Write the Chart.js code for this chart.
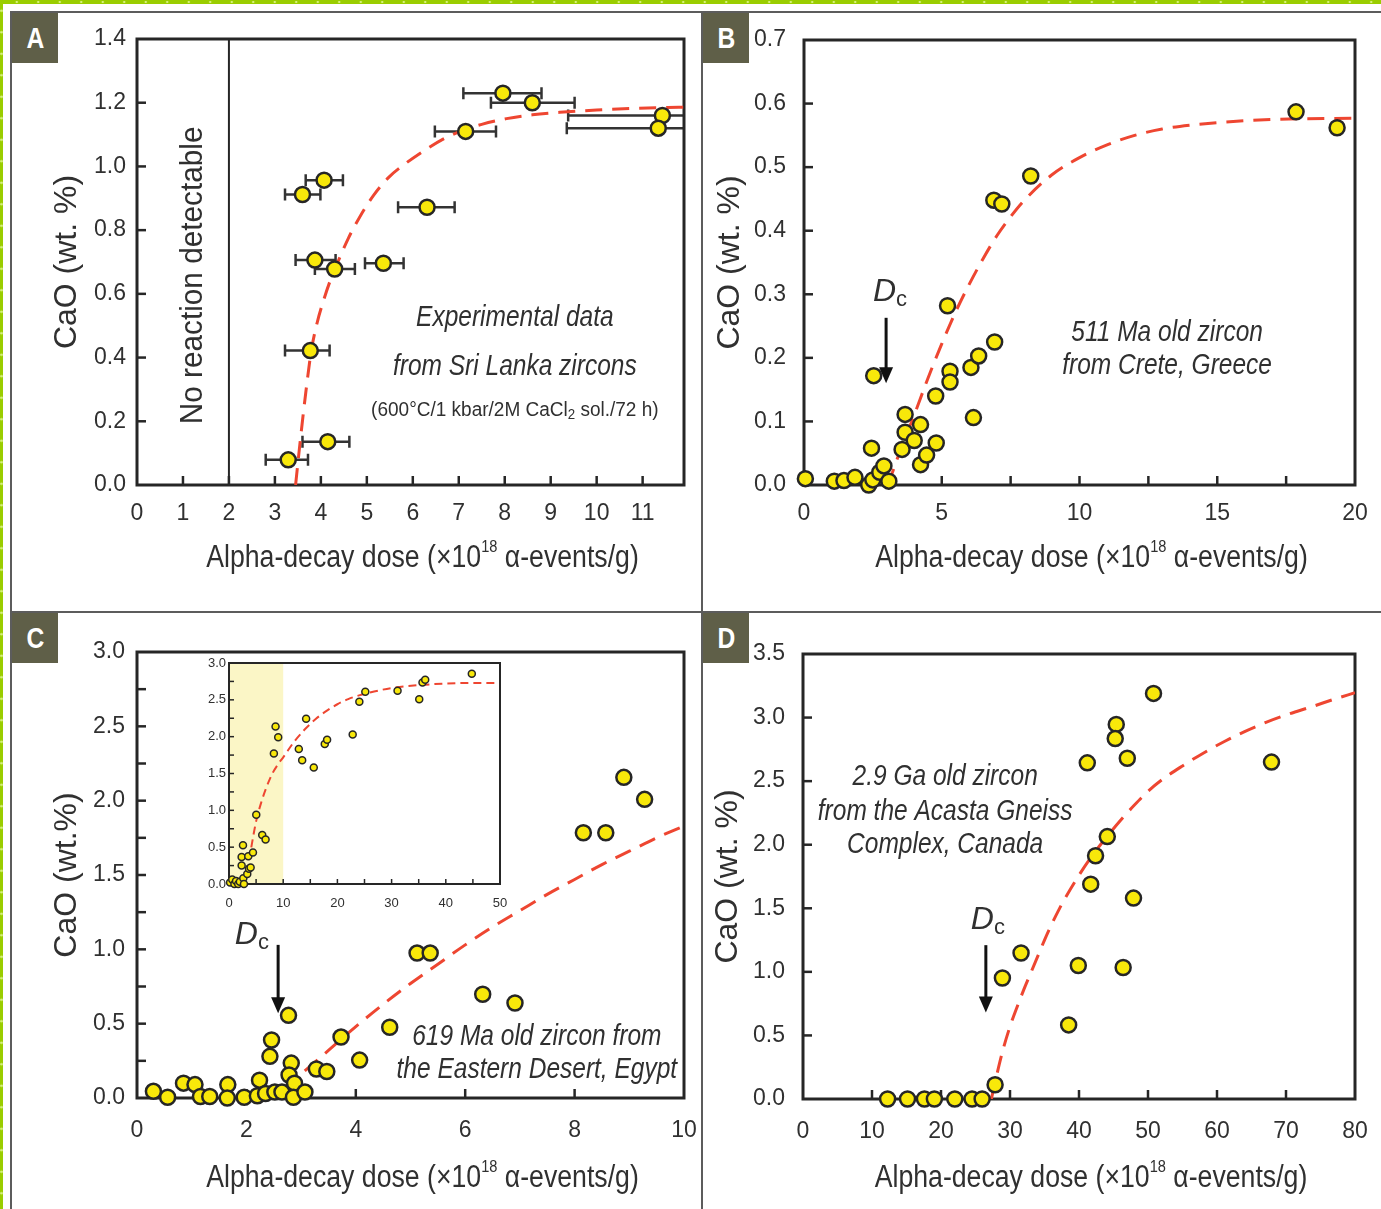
<!DOCTYPE html>
<html lang="en">
<head>
<meta charset="utf-8">
<title>CaO uptake versus alpha-decay dose in zircon</title>
<script src="https://cdn.jsdelivr.net/npm/chart.js@4.4.1/dist/chart.umd.min.js"></script>
<style>
  html, body { margin: 0; padding: 0; background: #fff; }
  #fig { position: relative; width: 1381px; height: 1209px; overflow: hidden; background: #fff; }
  .band-top { position: absolute; left: 0; top: 0; width: 1381px; height: 4px; background-color: #9acd00;
    background-image: radial-gradient(circle, #d6f07c 0 1px, transparent 1.6px); background-size: 21.5px 4px; background-position: 6px 0; }
  .band-left { position: absolute; left: 0; top: 0; width: 3px; height: 1209px; background-color: #9acd00;
    background-image: radial-gradient(circle, #d6f07c 0 1px, transparent 1.6px); background-size: 3px 21.5px; }
  .rule { position: absolute; background: #5c5c5c; }
  canvas { position: absolute; }
  .tag { position: absolute; width: 46px; height: 50px; background: #5f5f48; color: #fff;
    font: bold 29px 'Liberation Sans', sans-serif;
    display: flex; align-items: center; justify-content: center; }
  .tag span { display: inline-block; transform: scaleX(0.85); }
</style>
</head>
<body>
<div id="fig">
  <div class="band-top"></div>
  <div class="band-left"></div>
  <div class="rule" style="left:11px;top:11px;width:1370px;height:2px"></div>
  <div class="rule" style="left:10px;top:11px;width:2px;height:1198px"></div>
  <div class="rule" style="left:701px;top:11px;width:2px;height:1198px"></div>
  <div class="rule" style="left:11px;top:611px;width:1370px;height:2px"></div>

  <canvas id="cA" width="700" height="610" style="left:0;top:0;width:700px;height:610px"></canvas>
  <canvas id="cB" width="678" height="610" style="left:703px;top:0;width:678px;height:610px"></canvas>
  <canvas id="cC" width="700" height="596" style="left:0;top:613px;width:700px;height:596px"></canvas>
  <canvas id="cD" width="678" height="596" style="left:703px;top:613px;width:678px;height:596px"></canvas>
  <canvas id="cI" width="330" height="280" style="left:180px;top:645px;width:330px;height:280px"></canvas>

  <div class="tag" style="left:12px;top:13px"><span>A</span></div>
  <div class="tag" style="left:703px;top:13px"><span>B</span></div>
  <div class="tag" style="left:12px;top:613px"><span>C</span></div>
  <div class="tag" style="left:703px;top:613px"><span>D</span></div>
</div>

<script>
const FONT = "'Liberation Sans',Arial,sans-serif";
const INK = '#262626';
const TEXT = '#303030';
const FIT_RED = '#ee4631';
const DOT_FILL = '#f8e80a';

// ---------- A: experimental data, Sri Lanka zircons ----------
const A_DOSE    = [7.96, 8.6, 11.43, 11.34, 7.15, 4.07, 3.6, 6.31, 3.87, 4.3, 5.36, 3.77, 4.15, 3.29];
const A_DOSE_LO = [7.1, 7.7, 9.38, 9.35, 6.48, 3.67, 3.22, 5.68, 3.45, 3.87, 4.96, 3.22, 3.6, 2.8];
const A_DOSE_HI = [8.8, 9.52, 12.3, 12.3, 7.81, 4.48, 3.99, 6.91, 4.32, 4.74, 5.8, 4.19, 4.62, 3.72];
const A_CAO     = [1.23, 1.20, 1.16, 1.12, 1.11, 0.957, 0.912, 0.872, 0.706, 0.678, 0.696, 0.422, 0.136, 0.079];
const A_FIT_DOSE = [3.45, 3.56, 3.67, 3.79, 3.92, 4.06, 4.2, 4.37, 4.6, 4.84, 5.15, 5.47, 5.85, 6.25, 6.65, 7.03, 7.5, 8.04, 8.6, 9.2, 10.0, 10.8, 11.55, 11.9];
const A_FIT_CAO  = [0, 0.15, 0.288, 0.42, 0.51, 0.58, 0.64, 0.70, 0.775, 0.84, 0.91, 0.965, 1.01, 1.05, 1.085, 1.11, 1.132, 1.15, 1.162, 1.17, 1.177, 1.182, 1.185, 1.186];
const A_X_TICKS = [0, 1, 2, 3, 4, 5, 6, 7, 8, 9, 10, 11];
const A_Y_TICKS = [0, 0.2, 0.4, 0.6, 0.8, 1.0, 1.2, 1.4];

// ---------- B: 511 Ma zircon, Crete ----------
const B_DOSE = [0.05, 1.1, 1.45, 1.85, 2.35, 2.5, 2.45, 2.53, 2.75, 2.9, 3.08, 3.56, 3.67, 3.67, 4.0, 4.23, 4.23, 4.45, 4.8, 4.78, 5.21, 5.3, 5.3, 6.06, 6.34, 6.15, 6.92, 6.89, 7.18, 8.23, 17.86, 19.35];
const B_CAO  = [0.01, 0.006, 0.007, 0.012, 0.0, 0.008, 0.058, 0.172, 0.02, 0.03, 0.006, 0.056, 0.111, 0.083, 0.07, 0.095, 0.032, 0.047, 0.066, 0.14, 0.282, 0.179, 0.162, 0.185, 0.203, 0.106, 0.225, 0.448, 0.442, 0.486, 0.587, 0.562];
const B_FIT_DOSE = [3.05, 3.5, 4.0, 4.5, 5.0, 5.5, 6.0, 6.5, 7.0, 7.5, 8.0, 9.0, 10, 11, 12, 13, 14, 15, 16, 17, 18, 20];
const B_FIT_CAO  = [0, 0.055, 0.11, 0.168, 0.222, 0.272, 0.316, 0.356, 0.392, 0.422, 0.448, 0.488, 0.515, 0.535, 0.55, 0.56, 0.566, 0.57, 0.573, 0.575, 0.576, 0.577];
const B_X_TICKS  = [0, 2.5, 5, 7.5, 10, 12.5, 15, 17.5, 20];
const B_X_LABELS = [0, 5, 10, 15, 20];
const B_Y_TICKS  = [0, 0.1, 0.2, 0.3, 0.4, 0.5, 0.6, 0.7];

// ---------- C: 619 Ma zircon, Eastern Desert ----------
const C_DOSE = [0.30, 0.56, 0.85, 1.06, 1.16, 1.33, 1.66, 1.65, 1.96, 2.24, 2.20, 2.35, 2.52, 2.65, 2.43, 2.46, 2.77, 2.82, 2.78, 2.88, 2.86, 3.07, 3.28, 3.47, 3.73, 4.07, 4.62, 5.12, 5.36, 6.32, 6.91, 8.16, 8.57, 8.90, 9.28];
const C_CAO  = [0.045, 0.005, 0.10, 0.09, 0.01, 0.01, 0.09, 0.0, 0.005, 0.12, 0.015, 0.03, 0.04, 0.04, 0.28, 0.39, 0.556, 0.235, 0.155, 0.10, 0.005, 0.04, 0.195, 0.178, 0.41, 0.255, 0.476, 0.975, 0.975, 0.698, 0.639, 1.784, 1.784, 2.157, 2.009];
const C_FIT_DOSE = [2.7, 3.0, 3.5, 4.0, 4.5, 5.0, 5.5, 6.0, 6.5, 7.0, 7.5, 8.0, 8.5, 9.0, 9.5, 10];
const C_FIT_CAO  = [0.06, 0.16, 0.32, 0.48, 0.63, 0.77, 0.9, 1.03, 1.15, 1.26, 1.37, 1.47, 1.57, 1.66, 1.75, 1.83];
const C_X_TICKS  = [0, 2, 4, 6, 8, 10];
const C_Y_TICKS  = [0, 0.25, 0.5, 0.75, 1.0, 1.25, 1.5, 1.75, 2.0, 2.25, 2.5, 2.75, 3.0];
const C_Y_LABELS = [0, 0.5, 1.0, 1.5, 2.0, 2.5, 3.0];

// C inset: same zircon over the full dose range
const CI_DOSE = [0.2, 0.6, 1.0, 1.3, 1.7, 2.0, 2.33, 2.33, 2.58, 2.64, 2.76, 3.37, 3.56, 3.68, 3.99, 4.42, 5.03, 6.13, 6.75, 8.28, 8.59, 9.08, 12.88, 13.5, 14.23, 15.64, 17.67, 18.1, 22.82, 24.05, 25.15, 31.1, 35.1, 35.7, 36.2, 44.8];
const CI_CAO  = [0.02, 0.06, 0.0, 0.04, 0.0, 0.03, 0.367, 0.252, 0.527, 0.078, 0.0, 0.137, 0.376, 0.206, 0.224, 0.426, 0.939, 0.664, 0.605, 1.773, 2.139, 1.993, 1.833, 1.681, 2.243, 1.58, 1.902, 1.957, 2.029, 2.474, 2.611, 2.624, 2.509, 2.734, 2.771, 2.854];
const CI_FIT_DOSE = [3.3, 4, 5, 6, 7, 8, 9, 10, 12, 14, 16, 18, 20, 22, 24, 26, 30, 35, 40, 45, 49.5];
const CI_FIT_CAO  = [0.15, 0.45, 0.85, 1.12, 1.33, 1.5, 1.62, 1.72, 1.93, 2.1, 2.24, 2.35, 2.44, 2.51, 2.56, 2.6, 2.66, 2.7, 2.72, 2.73, 2.73];
const CI_X_TICKS  = [0, 5, 10, 15, 20, 25, 30, 35, 40, 45, 50];
const CI_X_LABELS = [0, 10, 20, 30, 40, 50];
const CI_Y_TICKS  = [0, 0.25, 0.5, 0.75, 1.0, 1.25, 1.5, 1.75, 2.0, 2.25, 2.5, 2.75, 3.0];
const CI_Y_LABELS = [0, 0.5, 1.0, 1.5, 2.0, 2.5, 3.0];

// ---------- D: 2.9 Ga zircon, Acasta Gneiss ----------
const D_DOSE = [12.26, 15.15, 17.6, 19.04, 22.0, 24.5, 25.96, 27.84, 28.9, 31.6, 38.5, 39.9, 41.2, 41.7, 42.4, 44.1, 45.4, 45.25, 46.4, 47.0, 47.9, 50.8, 67.9];
const D_CAO  = [0, 0, 0, 0, 0, 0, 0, 0.112, 0.952, 1.148, 0.583, 1.05, 2.644, 1.69, 1.913, 2.064, 2.946, 2.835, 1.034, 2.68, 1.58, 3.19, 2.65];
const D_FIT_DOSE = [27.3, 28, 29, 30, 31, 32, 33, 34, 35, 36, 37, 38, 40, 42, 44, 46, 48, 50, 52, 55, 58, 61, 64, 67, 70, 74, 77, 80];
const D_FIT_CAO  = [0, 0.17, 0.39, 0.57, 0.72, 0.86, 0.99, 1.12, 1.25, 1.37, 1.48, 1.58, 1.76, 1.92, 2.06, 2.19, 2.31, 2.42, 2.51, 2.62, 2.72, 2.81, 2.89, 2.96, 3.02, 3.09, 3.145, 3.195];
const D_X_TICKS = [0, 10, 20, 30, 40, 50, 60, 70, 80];
const D_Y_TICKS = [0, 0.5, 1.0, 1.5, 2.0, 2.5, 3.0, 3.5];

// ---------- helpers ----------
const pts = (xs, ys) => xs.map((x, i) => ({ x, y: ys[i] }));
const font = (s) => `${s.italic ? 'italic ' : ''}${s.bold ? 'bold ' : ''}${s.size}px ${FONT}`;

function dots(xs, ys, r, bw) {
  return { data: pts(xs, ys), showLine: false, clip: false,
    pointRadius: r, pointHoverRadius: r, pointBackgroundColor: DOT_FILL,
    pointBorderColor: INK, pointBorderWidth: bw };
}
function fitLine(xs, ys, w, dash) {
  return { data: pts(xs, ys), showLine: true, pointRadius: 0, pointHoverRadius: 0,
    borderColor: FIT_RED, borderWidth: w, borderDash: dash, borderCapStyle: 'butt',
    cubicInterpolationMode: 'monotone', fill: false };
}

// draws a run of text pieces (sub/superscripts, mixed styles) centred on (x, y);
// sx squeezes the run horizontally to get the narrow lettering
function drawRich(ctx, segs, x, y, sx) {
  let total = 0;
  segs.forEach(s => { ctx.font = font(s); s._w = ctx.measureText(s.t).width; total += s._w; });
  ctx.save();
  ctx.translate(x, y);
  ctx.scale(sx || 1, 1);
  ctx.textAlign = 'left';
  ctx.textBaseline = 'middle';
  let cx = -total / 2;
  segs.forEach(s => { ctx.font = font(s); ctx.fillText(s.t, cx, s.dy || 0); cx += s._w; });
  ctx.restore();
}

const decor = {
  id: 'decor',
  beforeDatasetsDraw(chart, _args, o) {
    const { ctx, chartArea: ca } = chart;
    const X = chart.scales.x, Y = chart.scales.y;
    ctx.save();
    if (o.paper) { ctx.fillStyle = o.paper; ctx.fillRect(ca.left, ca.top, ca.width, ca.height); }
    if (o.band) {
      const x0 = X.getPixelForValue(o.band.from), x1 = X.getPixelForValue(o.band.to);
      ctx.fillStyle = o.band.color; ctx.fillRect(x0, ca.top, x1 - x0, ca.height);
    }
    ctx.strokeStyle = INK;
    if (o.vline) {
      const px = X.getPixelForValue(o.vline.at);
      ctx.lineWidth = o.vline.width;
      ctx.beginPath(); ctx.moveTo(px, ca.top); ctx.lineTo(px, ca.bottom); ctx.stroke();
    }
    // tick marks point into the plot
    ctx.lineWidth = o.tickWidth;
    X.ticks.forEach(t => {
      const px = X.getPixelForValue(t.value);
      if (px <= ca.left + 1 || px >= ca.right - 1) return;
      ctx.beginPath(); ctx.moveTo(px, ca.bottom); ctx.lineTo(px, ca.bottom - o.tickLen); ctx.stroke();
    });
    Y.ticks.forEach(t => {
      const py = Y.getPixelForValue(t.value);
      if (py <= ca.top + 1 || py >= ca.bottom - 1) return;
      ctx.beginPath(); ctx.moveTo(ca.left, py); ctx.lineTo(ca.left + o.tickLen, py); ctx.stroke();
    });
    // horizontal error bars on dose
    if (o.errors) {
      ctx.save();
      ctx.beginPath(); ctx.rect(ca.left, ca.top, ca.width, ca.height); ctx.clip();
      ctx.strokeStyle = '#333'; ctx.lineWidth = o.errors.width;
      o.errors.y.forEach((v, i) => {
        const py = Y.getPixelForValue(v);
        const x0 = X.getPixelForValue(o.errors.lo[i]), x1 = X.getPixelForValue(o.errors.hi[i]);
        ctx.beginPath(); ctx.moveTo(x0, py); ctx.lineTo(x1, py);
        ctx.moveTo(x0, py - o.errors.cap); ctx.lineTo(x0, py + o.errors.cap);
        ctx.moveTo(x1, py - o.errors.cap); ctx.lineTo(x1, py + o.errors.cap);
        ctx.stroke();
      });
      ctx.restore();
    }
    // plot frame
    ctx.lineWidth = o.frameWidth;
    ctx.strokeRect(ca.left, ca.top, ca.width, ca.height);
    ctx.restore();
  },
  afterDatasetsDraw(chart, _args, o) {
    const { ctx, chartArea: ca } = chart;
    const X = chart.scales.x, Y = chart.scales.y;
    ctx.save();
    ctx.fillStyle = TEXT;
    (o.notes || []).forEach(n => {
      const px = X.getPixelForValue(n.x), py = Y.getPixelForValue(n.y);
      if (n.rotate) {
        ctx.save(); ctx.translate(px, py); ctx.rotate(-Math.PI / 2);
        drawRich(ctx, n.segs, 0, 0, n.sx); ctx.restore();
      } else {
        drawRich(ctx, n.segs, px, py, n.sx);
      }
    });
    if (o.arrow) {
      const a = o.arrow;
      const px = X.getPixelForValue(a.x), y0 = Y.getPixelForValue(a.from), y1 = Y.getPixelForValue(a.to);
      ctx.strokeStyle = '#111'; ctx.fillStyle = '#111'; ctx.lineWidth = 3;
      ctx.beginPath(); ctx.moveTo(px, y0); ctx.lineTo(px, y1 - a.headLen + 2); ctx.stroke();
      ctx.beginPath(); ctx.moveTo(px - a.headHalf, y1 - a.headLen); ctx.lineTo(px + a.headHalf, y1 - a.headLen);
      ctx.lineTo(px, y1); ctx.closePath(); ctx.fill();
      ctx.fillStyle = TEXT;
    }
    if (o.xTitle) {
      drawRich(ctx, o.xTitle.segs, (ca.left + ca.right) / 2 + o.xTitle.dx, ca.bottom + o.xTitle.dy, o.xTitle.sx);
    }
    if (o.yTitle) {
      ctx.save(); ctx.translate(ca.left + o.yTitle.dx, (ca.top + ca.bottom) / 2 + (o.yTitle.dy || 0));
      ctx.rotate(-Math.PI / 2); drawRich(ctx, o.yTitle.segs, 0, 0, o.yTitle.sx); ctx.restore();
    }
    ctx.restore();
  }
};

function axis(spec, fit) {
  return {
    type: 'linear', min: spec.min, max: spec.max,
    afterBuildTicks: s => { s.ticks = spec.ticks.map(v => ({ value: v })); },
    afterFit: s => {
      fit(s);
      // the plot box is fixed by the layout padding, so label overhang must not shrink it
      s.paddingLeft = 0; s.paddingRight = 0; s.paddingTop = 0; s.paddingBottom = 0;
    },
    grid: { display: false, drawTicks: false },
    border: { display: false },
    ticks: {
      autoSkip: false, maxRotation: 0, padding: spec.pad, color: TEXT,
      font: { family: FONT, size: spec.size },
      callback: v => (spec.labels || spec.ticks).includes(v) ? (spec.digits ? v.toFixed(spec.digits) : String(v)) : ''
    }
  };
}

function panel(id, box, xSpec, ySpec, datasets, decorOpts) {
  return new Chart(document.getElementById(id), {
    type: 'scatter',
    data: { datasets },
    options: {
      responsive: false, animation: false, devicePixelRatio: 1, events: [],
      layout: { autoPadding: false, padding: { left: 0, top: box.t, right: box.W - box.r, bottom: 0 } },
      plugins: { legend: { display: false }, tooltip: { enabled: false }, decor: decorOpts },
      scales: {
        x: axis(xSpec, s => { s.height = box.H - box.b; }),
        y: axis(ySpec, s => { s.width = box.l; })
      }
    },
    plugins: [decor]
  });
}

// canvas boxes: canvas size and where the plot area sits inside it
const BOX_A = { W: 700, H: 610, l: 137, r: 684, t: 39, b: 485 };
const BOX_B = { W: 678, H: 610, l: 101, r: 652, t: 40, b: 485 };
const BOX_C = { W: 700, H: 596, l: 137, r: 684, t: 39, b: 485 };
const BOX_D = { W: 678, H: 596, l: 100, r: 652, t: 41, b: 486 };
const BOX_I = { W: 330, H: 280, l: 49, r: 320, t: 18, b: 239 };

const TICK_SIZE = 23, TITLE_SIZE = 31, NOTE_SIZE = 29, NOTE_SX = 0.845, TITLE_SX = 0.86;
const doseTitle = () => [
  { t: 'Alpha-decay dose (×10', size: TITLE_SIZE },
  { t: '18', size: 17, dy: -11 },
  { t: ' α-events/g)', size: TITLE_SIZE }
];
const caoTitle = (t) => [{ t, size: 32 }];
const dcLabel = () => [{ t: 'D', size: 32, italic: true }, { t: 'c', size: 22, dy: 8 }];
const note = (x, y, t) => ({ x, y, sx: NOTE_SX, segs: [{ t, size: NOTE_SIZE, italic: true }] });
const baseDecor = { tickLen: 9, tickWidth: 2.5, frameWidth: 3 };

panel('cA', BOX_A,
  { min: 0, max: 11.9, ticks: A_X_TICKS, size: TICK_SIZE, pad: 15 },
  { min: 0, max: 1.4, ticks: A_Y_TICKS, size: TICK_SIZE, pad: 11, digits: 1 },
  [dots(A_DOSE, A_CAO, 7.5, 2.5), fitLine(A_FIT_DOSE, A_FIT_CAO, 3, [17, 10])],
  Object.assign({}, baseDecor, {
    vline: { at: 2, width: 2 },
    errors: { y: A_CAO, lo: A_DOSE_LO, hi: A_DOSE_HI, cap: 6, width: 2.5 },
    notes: [
      { x: 1.22, y: 0.658, rotate: true, sx: 0.96, segs: [{ t: 'No reaction detectable', size: 31 }] },
      note(8.22, 0.523, 'Experimental data'),
      note(8.22, 0.37, 'from Sri Lanka zircons'),
      { x: 8.22, y: 0.235, sx: 0.95, segs: [
        { t: '(600°C/1 kbar/2M CaCl', size: 20 }, { t: '2', size: 14, dy: 5 }, { t: ' sol./72 h)', size: 20 }] }
    ],
    xTitle: { segs: doseTitle(), dx: 12, dy: 73, sx: TITLE_SX },
    yTitle: { segs: caoTitle('CaO (wt. %)'), dx: -70 }
  }));

panel('cB', BOX_B,
  { min: 0, max: 20, ticks: B_X_TICKS, labels: B_X_LABELS, size: TICK_SIZE, pad: 15 },
  { min: 0, max: 0.7, ticks: B_Y_TICKS, size: TICK_SIZE, pad: 18, digits: 1 },
  [dots(B_DOSE, B_CAO, 7.5, 2.5), fitLine(B_FIT_DOSE, B_FIT_CAO, 3, [17, 10])],
  Object.assign({}, baseDecor, {
    notes: [
      { x: 3.12, y: 0.304, segs: dcLabel() },
      note(13.18, 0.239, '511 Ma old zircon'),
      note(13.18, 0.187, 'from Crete, Greece')
    ],
    arrow: { x: 2.98, from: 0.263, to: 0.16, headLen: 16, headHalf: 7 },
    xTitle: { segs: doseTitle(), dx: 12, dy: 73, sx: TITLE_SX },
    yTitle: { segs: caoTitle('CaO (wt. %)'), dx: -74 }
  }));

panel('cC', BOX_C,
  { min: 0, max: 10, ticks: C_X_TICKS, size: TICK_SIZE, pad: 19 },
  { min: 0, max: 3.0, ticks: C_Y_TICKS, labels: C_Y_LABELS, size: TICK_SIZE, pad: 12, digits: 1 },
  [dots(C_DOSE, C_CAO, 7.5, 2.5), fitLine(C_FIT_DOSE, C_FIT_CAO, 3, [17, 10])],
  Object.assign({}, baseDecor, {
    notes: [
      { x: 2.1, y: 1.096, segs: dcLabel() },
      note(7.31, 0.41, '619 Ma old zircon from'),
      note(7.31, 0.188, 'the Eastern Desert, Egypt')
    ],
    arrow: { x: 2.58, from: 1.03, to: 0.57, headLen: 16, headHalf: 7 },
    xTitle: { segs: doseTitle(), dx: 12, dy: 80, sx: TITLE_SX },
    yTitle: { segs: caoTitle('CaO (wt.%)'), dx: -70 }
  }));

panel('cD', BOX_D,
  { min: 0, max: 80, ticks: D_X_TICKS, size: TICK_SIZE, pad: 19 },
  { min: 0, max: 3.5, ticks: D_Y_TICKS, size: TICK_SIZE, pad: 18, digits: 1 },
  [dots(D_DOSE, D_CAO, 7.5, 2.5), fitLine(D_FIT_DOSE, D_FIT_CAO, 3, [17, 10])],
  Object.assign({}, baseDecor, {
    notes: [
      { x: 26.8, y: 1.41, segs: dcLabel() },
      note(20.6, 2.53, '2.9 Ga old zircon'),
      note(20.6, 2.26, 'from the Acasta Gneiss'),
      note(20.6, 2.0, 'Complex, Canada')
    ],
    arrow: { x: 26.5, from: 1.21, to: 0.68, headLen: 16, headHalf: 7 },
    xTitle: { segs: doseTitle(), dx: 12, dy: 79, sx: TITLE_SX },
    yTitle: { segs: caoTitle('CaO (wt. %)'), dx: -75 }
  }));

panel('cI', BOX_I,
  { min: 0, max: 50, ticks: CI_X_TICKS, labels: CI_X_LABELS, size: 13, pad: 12 },
  { min: 0, max: 3.0, ticks: CI_Y_TICKS, labels: CI_Y_LABELS, size: 13, pad: 3, digits: 1 },
  [dots(CI_DOSE, CI_CAO, 3.5, 1.5), fitLine(CI_FIT_DOSE, CI_FIT_CAO, 2, [8, 5])],
  { tickLen: 5, tickWidth: 1.5, frameWidth: 2, paper: '#ffffff',
    band: { from: 0, to: 10, color: '#fbf6c6' } });
</script>
</body>
</html>
